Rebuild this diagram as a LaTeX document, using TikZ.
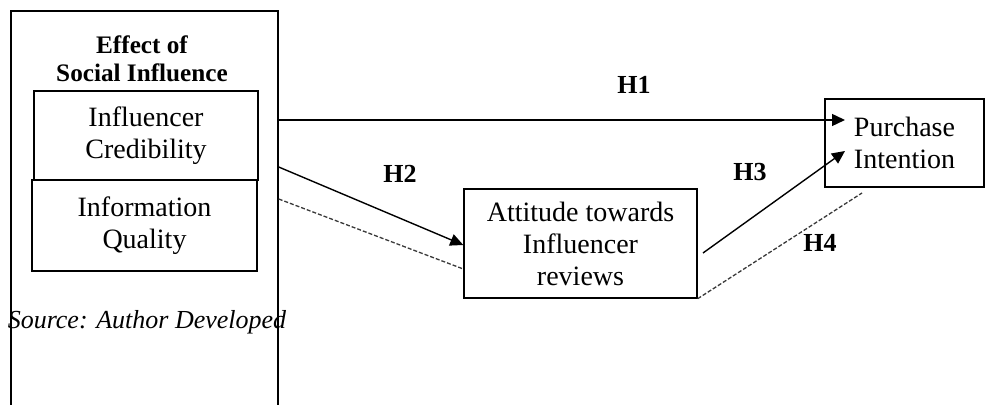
\documentclass[tikz,border=0pt]{standalone}
\usepackage{fontspec}
\setmainfont{Liberation Serif}
\usetikzlibrary{arrows.meta}
\begin{document}
\begin{tikzpicture}[x=0.5pt,y=-0.5pt,
  box/.style={draw,line width=0.7pt,inner sep=0pt,align=center,font=\fontsize{14}{16}\selectfont},
  lbl/.style={font=\bfseries\fontsize{13}{14}\selectfont,inner sep=0pt},
  conn/.style={line width=0.7pt,-{Triangle[length=6.5pt,width=6pt]}},
  dconn/.style={line width=0.65pt,gray!45!black,dash pattern=on 2pt off 1pt}]
\clip (0,0) rectangle (986,405);
\fill[white] (0,0) rectangle (986,405);
\node[draw,line width=0.7pt,minimum width=133.5pt,minimum height=220pt,inner sep=0pt] (outer) at (144.5,231) {};
\node[font=\bfseries\fontsize{12.6}{14}\selectfont,align=center,inner sep=0pt] (title) at (142,59) {Effect of\\Social Influence};
\node[box,minimum width=112pt,minimum height=44.5pt] (ic) at (146,135.5) {Influencer\\Credibility};
\node[box,minimum width=112.5pt,minimum height=45.5pt] (iq) at (144.5,225.5) {Information\\Quality};
\node[font=\itshape\fontsize{13}{15}\selectfont,inner sep=0pt] (src) at (147,322) {Source: Author Developed};
\node[box,minimum width=116.5pt,minimum height=54.5pt] (att) at (580.5,243.5) {Attitude towards\\Influencer\\reviews};
\node[box,minimum width=79.5pt,minimum height=44pt] (pi) at (904.5,143) {Purchase\\Intention};
% connector end points
\coordinate (h1s) at (outer.east |- 0,120);
\coordinate (h1e) at (845,120);
\coordinate (h2s) at (outer.east |- 0,167);
\coordinate (h2e) at (att.west |- 0,245);
\coordinate (d1s) at (outer.east |- 0,199);
\coordinate (d1e) at (att.west |- 0,269);
\coordinate (h3s) at (703,253);
\coordinate (h3e) at (845,151);
\coordinate (d2s) at (att.south east);
\coordinate (d2e) at (862,193);
\draw[conn] (h1s) -- (h1e);
\draw[conn] (h2s) -- (h2e);
\draw[dconn] (d1s) -- (d1e);
\draw[conn] (h3s) -- (h3e);
\draw[dconn] (d2s) -- (d2e);
\node[lbl] (l1) at (634,85) {H1};
\node[lbl] (l2) at (400,174) {H2};
\node[lbl] (l3) at (750,172) {H3};
\node[lbl] (l4) at (820,243) {H4};
\end{tikzpicture}
\end{document}
